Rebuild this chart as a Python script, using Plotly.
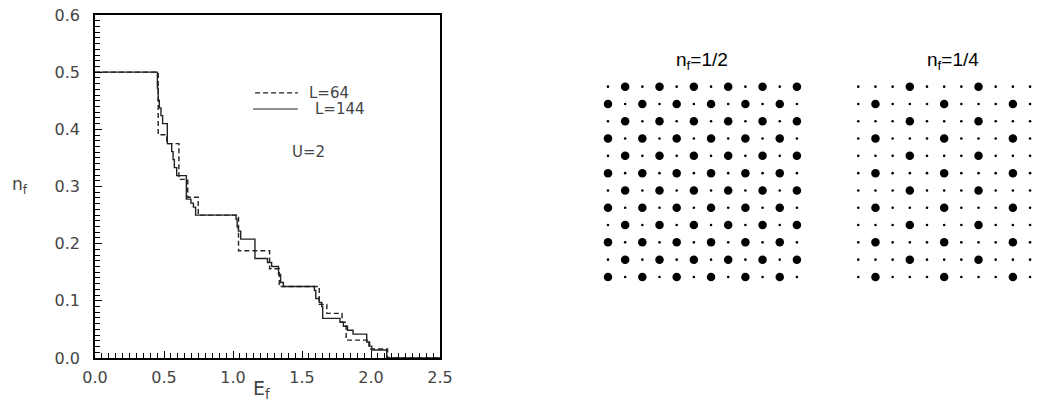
import plotly.graph_objects as go

# f-level occupation vs E_f, step curves (value holds from each E until the next)
E_L64 = [0.0, 0.458, 0.520, 0.608, 0.672, 0.748, 1.040, 1.265, 1.335,
         1.625, 1.680, 1.790, 1.820, 1.990, 2.120, 2.500]
N_L64 = [0.5, 0.3906, 0.375, 0.3125, 0.28125, 0.25, 0.1875, 0.15625, 0.125,
         0.09375, 0.078125, 0.0625, 0.03125, 0.015625, 0.0, 0.0]

E_L144 = [0.0, 0.452, 0.458, 0.466, 0.478, 0.490, 0.524, 0.556, 0.566, 0.575,
          0.592, 0.662, 0.695, 0.713, 0.729, 1.022, 1.030, 1.039, 1.056, 1.159,
          1.250, 1.280, 1.330, 1.345, 1.365, 1.590, 1.600, 1.625, 1.643, 1.650,
          1.775, 1.800, 1.830, 1.870, 1.969, 1.985, 2.005, 2.114, 2.500]
N_L144 = [0.5, 0.472, 0.451, 0.4375, 0.424, 0.410, 0.375, 0.361, 0.347, 0.333,
          0.319, 0.278, 0.271, 0.264, 0.25, 0.243, 0.229, 0.222, 0.208, 0.174,
          0.167, 0.160, 0.146, 0.132, 0.125, 0.118, 0.104, 0.097, 0.090, 0.0694,
          0.0625, 0.0556, 0.0486, 0.0417, 0.028, 0.0208, 0.0139, 0.0, 0.0]

# lattice snapshots: 1 = occupied f site (big dot), 0 = empty (small dot)
LATTICE_HALF = [
    "010101010101", "101010101010", "010101010101", "101010101010",
    "010101010101", "101010101010", "010101010101", "101010101010",
    "010101010101", "101010101010", "010101010101", "101010101010",
]
LATTICE_QUARTER = [
    "000100010001", "010001000100", "000100010001", "010001000100",
    "000100010001", "010001000100", "000100010001", "010001000100",
    "000100010001", "010001000100", "000100010001", "010001000100",
]

# the page body has an 8px margin, so the figure is drawn 8px in from the corner
OFF = 8
W, H = 1045 - OFF, 403 - OFF
TXT = "#444"
FONT = "DejaVu Sans"


def lattice_trace(rows, xa, ya):
    xs, ys, sz = [], [], []
    for r, row in enumerate(rows):
        for c, ch in enumerate(row):
            xs.append(c)
            ys.append(r)
            sz.append(8.5 if ch == "1" else 2.6)
    return go.Scatter(x=xs, y=ys, mode="markers", xaxis=xa, yaxis=ya,
                      marker=dict(size=sz, color="black", opacity=1, line=dict(width=0)),
                      cliponaxis=False, showlegend=False, hoverinfo="skip")


fig = go.Figure()
fig.add_trace(go.Scatter(x=E_L64, y=N_L64, mode="lines", line_shape="hv",
                         line=dict(color="#222", width=1.4, dash="5px,3px"),
                         name="L=64", showlegend=False))
fig.add_trace(go.Scatter(x=E_L144, y=N_L144, mode="lines", line_shape="hv",
                         line=dict(color="#222", width=1.4),
                         name="L=144", showlegend=False))
fig.add_trace(lattice_trace(LATTICE_HALF, "x2", "y2"))
fig.add_trace(lattice_trace(LATTICE_QUARTER, "x3", "y3"))

px = lambda v: (v - OFF) / W
py = lambda v: 1 - (v - OFF) / H

axis_common = dict(showline=True, linecolor="black", linewidth=1.5, mirror=True,
                   ticks="inside", tickcolor="black", tickwidth=1, ticklen=7,
                   showgrid=False, zeroline=False, automargin=False,
                   ticklabeloverflow="allow",
                   tickfont=dict(family=FONT, size=16, color=TXT))
hidden = dict(visible=False, automargin=False)

fig.update_layout(
    width=W, height=H, margin=dict(l=0, r=0, t=0, b=0, pad=0, autoexpand=False),
    paper_bgcolor="white", plot_bgcolor="white", showlegend=False,
    xaxis=dict(domain=[px(95), px(440)], range=[0, 2.5], dtick=0.5,
               tickformat=".1f", ticklabelstandoff=4,
               minor=dict(dtick=0.05, ticks="inside", ticklen=5, tickcolor="black"),
               **axis_common),
    yaxis=dict(domain=[py(358), py(15)], range=[0, 0.6], dtick=0.1,
               tickformat=".1f", ticklabelstandoff=10,
               minor=dict(dtick=0.01, ticks="inside", ticklen=5, tickcolor="black"),
               **axis_common),
    xaxis2=dict(domain=[px(599.4), px(805.5)], range=[-0.5, 11.5], **hidden),
    yaxis2=dict(domain=[py(285.6), py(78)], range=[11.5, -0.5], **hidden),
    xaxis3=dict(domain=[px(849.7), 1.0], range=[-0.5, 10.87], **hidden),
    yaxis3=dict(domain=[py(285.6), py(78)], range=[11.5, -0.5], **hidden),
)

# legend samples and labels inside the left panel
fig.add_shape(type="line", xref="x domain", yref="y domain", x0=0.464, x1=0.588,
              y0=0.773, y1=0.773, line=dict(color="#222", width=1.2, dash="5px,3px"))
fig.add_shape(type="line", xref="x domain", yref="y domain", x0=0.458, x1=0.588,
              y0=0.726, y1=0.726, line=dict(color="#222", width=1.2))

annots = [
    dict(x=0.614, y=0.773, xref="x domain", yref="y domain", text="L=64",
         xanchor="left", size=15),
    dict(x=0.632, y=0.726, xref="x domain", yref="y domain", text="L=144",
         xanchor="left", size=15),
    dict(x=0.618, y=0.600, xref="x domain", yref="y domain", text="U=2",
         xanchor="center", size=15),
    dict(x=px(20), y=py(186), xref="paper", yref="paper", text="n<sub>f</sub>",
         xanchor="center", size=17),
    dict(x=px(261), y=py(389), xref="paper", yref="paper", text="E<sub>f</sub>",
         xanchor="center", size=19),
]
for a in annots:
    fig.add_annotation(x=a["x"], y=a["y"], xref=a["xref"], yref=a["yref"],
                       text=a["text"], showarrow=False, xanchor=a["xanchor"],
                       yanchor="middle", font=dict(family=FONT, size=a["size"], color=TXT))

for cx, label in [(702, "n<sub>f</sub>=1/2"), (953, "n<sub>f</sub>=1/4")]:
    fig.add_annotation(x=px(cx), y=py(61), xref="paper", yref="paper", text=label,
                       showarrow=False, xanchor="center", yanchor="middle",
                       font=dict(family="Liberation Sans", size=19, color="black"))

fig.write_html("out.html")
